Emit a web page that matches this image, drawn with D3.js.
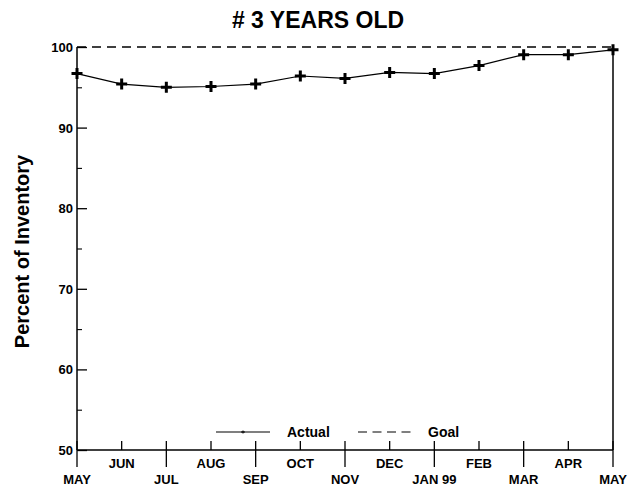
<!DOCTYPE html>
<html>
<head>
<meta charset="utf-8">
<script src="https://cdn.jsdelivr.net/npm/d3@7"></script>
<style>
  body { margin: 0; background: #fff; }
  text { font-family: "Liberation Sans", Arial, sans-serif; font-weight: bold; fill: #000; }
</style>
</head>
<body>
<div id="chart"></div>
<script>
const months = ['MAY', 'JUN', 'JUL', 'AUG', 'SEP', 'OCT', 'NOV', 'DEC', 'JAN 99', 'FEB', 'MAR', 'APR', 'MAY'];
const actual = [96.7, 95.4, 95.0, 95.1, 95.4, 96.4, 96.1, 96.85, 96.7, 97.7, 99.05, 99.05, 99.65];
const goal = 100;
const yTicks = [50, 60, 70, 80, 90, 100];
const yMinorTicks = [55, 65, 75, 85, 95];

function drawChart() {
    const width = 628, height = 487;
    const margin = { top: 47, right: 15, bottom: 37, left: 77 };

    const svg = d3.select('#chart').append('svg')
        .attr('width', width)
        .attr('height', height);

    const x = d3.scaleLinear()
        .domain([0, months.length - 1])
        .range([margin.left, width - margin.right]);

    const y = d3.scaleLinear()
        .domain([50, 100])
        .range([height - margin.bottom, margin.top]);

    // title
    svg.append('text')
        .attr('x', 318)
        .attr('y', 28)
        .attr('text-anchor', 'middle')
        .style('font-size', '23px')
        .text('# 3 YEARS OLD');

    // y axis title
    svg.append('text')
        .attr('transform', 'translate(29, ' + ((y(50) + y(100)) / 2 + 3) + ') rotate(-90)')
        .attr('text-anchor', 'middle')
        .style('font-size', '20px')
        .text('Percent of Inventory');

    // y axis
    const yAxis = d3.axisRight(y)
        .tickValues(yTicks)
        .tickSize(10)
        .tickFormat('');
    svg.append('g')
        .attr('transform', 'translate(' + margin.left + ', 0)')
        .call(yAxis)
        .call(g => g.select('.domain').remove())
        .call(g => g.selectAll('line').attr('stroke', '#000').attr('stroke-width', 1.3));

    svg.append('g')
        .attr('transform', 'translate(' + margin.left + ', 0)')
        .call(d3.axisRight(y).tickValues(yMinorTicks).tickSize(5).tickFormat(''))
        .call(g => g.select('.domain').remove())
        .call(g => g.selectAll('line').attr('stroke', '#000').attr('stroke-width', 1.1));

    svg.append('g')
        .selectAll('text')
        .data(yTicks)
        .join('text')
        .attr('x', margin.left - 4)
        .attr('y', d => y(d) + 5)
        .attr('text-anchor', 'end')
        .style('font-size', '13px')
        .text(d => d);

    // left and right frame lines
    svg.append('line')
        .attr('x1', x(0)).attr('x2', x(0))
        .attr('y1', y(100)).attr('y2', y(50))
        .attr('stroke', '#000').attr('stroke-width', 1.5);
    svg.append('line')
        .attr('x1', x(months.length - 1)).attr('x2', x(months.length - 1))
        .attr('y1', y(100)).attr('y2', y(50))
        .attr('stroke', '#000').attr('stroke-width', 1.5);

    // x axis
    svg.append('line')
        .attr('x1', x(0)).attr('x2', x(months.length - 1))
        .attr('y1', y(50)).attr('y2', y(50))
        .attr('stroke', '#000').attr('stroke-width', 1.5);

    const xTicks = svg.append('g')
        .selectAll('g')
        .data(months)
        .join('g')
        .attr('transform', (d, i) => 'translate(' + x(i) + ', ' + y(50) + ')');

    xTicks.append('line')
        .attr('y1', -9)
        .attr('y2', (d, i) => i % 2 === 0 ? 17 : 0)
        .attr('stroke', '#000')
        .attr('stroke-width', 1.3);

    xTicks.append('text')
        .attr('y', (d, i) => i % 2 === 0 ? 34 : 18)
        .attr('text-anchor', 'middle')
        .style('font-size', '13px')
        .text(d => d);

    // goal line
    svg.append('line')
        .attr('x1', x(0)).attr('x2', x(months.length - 1))
        .attr('y1', y(goal)).attr('y2', y(goal))
        .attr('stroke', '#000')
        .attr('stroke-width', 1.3)
        .attr('stroke-dasharray', '9,6');

    // actual line
    const line = d3.line()
        .x((d, i) => x(i))
        .y(d => y(d));
    svg.append('path')
        .datum(actual)
        .attr('d', line)
        .attr('fill', 'none')
        .attr('stroke', '#000')
        .attr('stroke-width', 1.2);

    svg.append('g')
        .selectAll('path')
        .data(actual)
        .join('path')
        .attr('transform', (d, i) => 'translate(' + x(i) + ', ' + y(d) + ')')
        .attr('d', 'M-5.5,0H5.5M0,-5.5V5.5')
        .attr('stroke', '#000')
        .attr('stroke-width', 3);

    // legend
    const legend = svg.append('g');
    legend.append('line')
        .attr('x1', 216).attr('x2', 270)
        .attr('y1', 432).attr('y2', 432)
        .attr('stroke', '#000').attr('stroke-width', 1.1);
    legend.append('path')
        .attr('d', 'M241,432H245M243,430.5V433.5')
        .attr('stroke', '#000').attr('stroke-width', 1);
    legend.append('text')
        .attr('x', 287).attr('y', 437)
        .style('font-size', '14px')
        .text('Actual');
    legend.append('line')
        .attr('x1', 358).attr('x2', 412)
        .attr('y1', 432).attr('y2', 432)
        .attr('stroke', '#000').attr('stroke-width', 1.1)
        .attr('stroke-dasharray', '9,5.5');
    legend.append('text')
        .attr('x', 428).attr('y', 437)
        .style('font-size', '14px')
        .text('Goal');
}

drawChart();
</script>
</body>
</html>
